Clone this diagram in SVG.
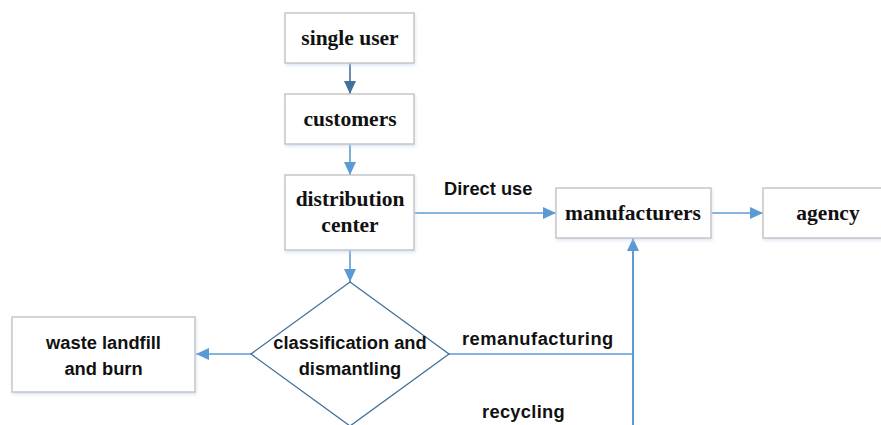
<svg xmlns="http://www.w3.org/2000/svg" width="881" height="425" viewBox="0 0 881 425">
  <defs>
    <marker id="ah" markerUnits="userSpaceOnUse" markerWidth="14" markerHeight="14" viewBox="0 0 14 14" refX="13" refY="7" orient="auto">
      <path d="M0,1 L13,7 L0,13 Z" fill="#5b9bd5"/>
    </marker>
    <marker id="ahd" markerUnits="userSpaceOnUse" markerWidth="14" markerHeight="14" viewBox="0 0 14 14" refX="13" refY="7" orient="auto">
      <path d="M0,1 L13,7 L0,13 Z" fill="#41719c"/>
    </marker>
    <filter id="sh" x="-10%" y="-10%" width="130%" height="140%">
      <feDropShadow dx="1" dy="2" stdDeviation="1.5" flood-color="#bcd3ea" flood-opacity="0.5"/>
    </filter>
  </defs>
  <style>
    .box { fill: #ffffff; stroke: #c6c6c6; stroke-width: 1.5; filter: url(#sh); }
    .dia { fill: #ffffff; stroke: #41719c; stroke-width: 1.3; }
    .serif { font-family: "Liberation Serif", "Times New Roman", serif; font-weight: bold; font-size: 21.5px; fill: #111; text-anchor: middle; }
    .sans { font-family: "Liberation Sans", Arial, sans-serif; font-weight: bold; font-size: 18.3px; fill: #111; }
    .mid { text-anchor: middle; }
    .ln { stroke: #5b9bd5; stroke-width: 1.6; fill: none; }
  </style>
  <rect width="881" height="425" fill="#ffffff"/>

  <g id="connectors">
    <line class="ln" x1="350" y1="63" x2="350" y2="94" style="stroke:#41719c" marker-end="url(#ahd)"/>
    <line class="ln" x1="350" y1="144" x2="350" y2="175" marker-end="url(#ah)"/>
    <line class="ln" x1="350" y1="250" x2="350" y2="282" marker-end="url(#ah)"/>
    <line class="ln" x1="414" y1="213" x2="556" y2="213" marker-end="url(#ah)"/>
    <line class="ln" x1="711" y1="213" x2="763" y2="213" marker-end="url(#ah)"/>
    <line class="ln" x1="251" y1="354" x2="196" y2="354" marker-end="url(#ah)"/>
    <line class="ln" x1="449" y1="354" x2="633" y2="354"/>
    <line class="ln" x1="633" y1="425" x2="633" y2="238" style="stroke-width:2" marker-end="url(#ah)"/>
    <text class="sans" x="444" y="195">Direct use</text>
    <text class="sans" x="462" y="345" style="letter-spacing:0.5px">remanufacturing</text>
    <text class="sans" x="482" y="418" style="letter-spacing:0.3px">recycling</text>
  </g>

  <g id="single-user">
    <rect class="box" x="285" y="13" width="129" height="50"/>
    <text class="serif" x="350" y="45">single user</text>
  </g>
  <g id="customers">
    <rect class="box" x="285" y="94" width="129" height="50"/>
    <text class="serif" x="350" y="126">customers</text>
  </g>
  <g id="distribution-center">
    <rect class="box" x="285" y="175" width="129" height="75"/>
    <text class="serif" x="350" y="206">distribution</text>
    <text class="serif" x="350" y="232">center</text>
  </g>
  <g id="manufacturers">
    <rect class="box" x="556" y="188" width="155" height="50"/>
    <text class="serif" x="633" y="220">manufacturers</text>
  </g>
  <g id="agency">
    <rect class="box" x="763" y="188" width="130" height="50"/>
    <text class="serif" x="828" y="220">agency</text>
  </g>
  <g id="classification">
    <polygon class="dia" points="350,282 449,354 350,426 251,354"/>
    <text class="sans mid" x="350" y="349">classification and</text>
    <text class="sans mid" x="350" y="375">dismantling</text>
  </g>
  <g id="waste">
    <rect class="box" x="12" y="317" width="183" height="75"/>
    <text class="sans mid" x="103.5" y="349">waste landfill</text>
    <text class="sans mid" x="103.5" y="375">and burn</text>
  </g>
</svg>
